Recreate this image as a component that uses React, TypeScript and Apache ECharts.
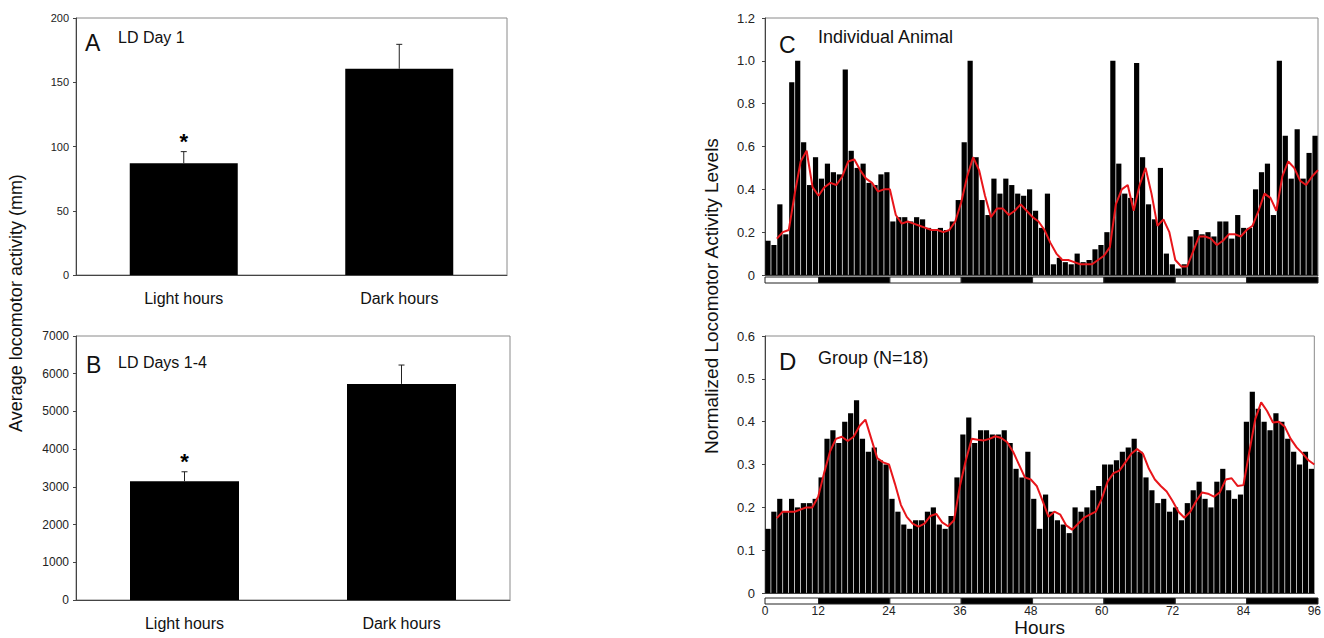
import React, { useEffect, useRef } from "react";
import * as echarts from "echarts";

// ---------- Panels A & B ----------
const categories = ["Light hours", "Dark hours"];
const day1Means = [87, 160.5];
const day1ErrTop = [96, 179.5];
const days14Means = [3150, 5730];
const days14ErrTop = [3400, 6230];
const significance = ["*", ""];

// ---------- Panels C & D (hourly bins, first bin starts at hour 3) ----------
const firstHour = 3;
const individualBars = [
  0.16, 0.14, 0.33, 0.19, 0.9, 1.0, 0.62, 0.42, 0.55, 0.45,
  0.52, 0.48, 0.47, 0.96, 0.58, 0.5, 0.52, 0.43, 0.42, 0.47,
  0.48, 0.25, 0.27, 0.27, 0.25, 0.27, 0.26, 0.22, 0.21, 0.22,
  0.21, 0.25, 0.35, 0.62, 1.0, 0.55, 0.35, 0.28, 0.45, 0.38,
  0.45, 0.42, 0.38, 0.37, 0.4, 0.3, 0.22, 0.38, 0.05, 0.08,
  0.06, 0.05, 0.1, 0.06, 0.07, 0.12, 0.14, 0.2, 1.0, 0.52,
  0.38, 0.36, 0.99, 0.55, 0.33, 0.26, 0.5, 0.1, 0.05, 0.03,
  0.05, 0.18, 0.21, 0.19, 0.2, 0.18, 0.25, 0.25, 0.17, 0.28,
  0.22, 0.22, 0.4, 0.48, 0.52, 0.28, 1.0, 0.65, 0.45, 0.68,
  0.45, 0.57, 0.65,
];
const avgStartHour = 5;
const individualAvg = [
  0.17, 0.2, 0.21, 0.38, 0.53, 0.58, 0.41, 0.37, 0.41, 0.43,
  0.42, 0.46, 0.53, 0.54, 0.49, 0.45, 0.43, 0.39, 0.4, 0.4,
  0.28, 0.24, 0.25, 0.24, 0.23, 0.22, 0.21, 0.21, 0.2, 0.21,
  0.25, 0.34, 0.46, 0.55, 0.49, 0.37, 0.27, 0.31, 0.31, 0.28,
  0.3, 0.33, 0.3, 0.27, 0.25, 0.21, 0.15, 0.1, 0.07, 0.07,
  0.06, 0.05, 0.05, 0.05, 0.07, 0.09, 0.13, 0.33, 0.4, 0.42,
  0.3, 0.42, 0.5, 0.38, 0.23, 0.26, 0.2, 0.07, 0.04, 0.04,
  0.11, 0.18, 0.18, 0.17, 0.14, 0.16, 0.19, 0.19, 0.18, 0.21,
  0.23, 0.3, 0.38, 0.36, 0.3, 0.46, 0.53, 0.5, 0.44, 0.42,
  0.46, 0.49,
];
const groupBars = [
  0.15, 0.19, 0.22, 0.19, 0.22, 0.2, 0.21, 0.21, 0.22, 0.27,
  0.36, 0.38, 0.35, 0.4, 0.42, 0.45, 0.36, 0.33, 0.34, 0.31,
  0.3, 0.22, 0.19, 0.16, 0.15, 0.17, 0.17, 0.19, 0.2, 0.16,
  0.15, 0.18, 0.27, 0.37, 0.41, 0.35, 0.38, 0.38, 0.37, 0.37,
  0.38, 0.35, 0.29, 0.27, 0.33, 0.22, 0.15, 0.23, 0.19, 0.17,
  0.16, 0.14, 0.2, 0.19, 0.2, 0.24, 0.25, 0.3, 0.3, 0.31,
  0.33, 0.34, 0.36, 0.33, 0.27, 0.24, 0.21, 0.22, 0.19, 0.2,
  0.17, 0.21, 0.24, 0.26, 0.22, 0.2, 0.26, 0.29, 0.24, 0.22,
  0.23, 0.4, 0.47, 0.43, 0.4, 0.38, 0.42, 0.4, 0.36, 0.33,
  0.3, 0.33, 0.29,
];
const groupAvg = [
  0.175, 0.19, 0.19, 0.19, 0.195, 0.2, 0.2, 0.225, 0.28, 0.33,
  0.36, 0.365, 0.355, 0.365, 0.39, 0.405, 0.36, 0.315, 0.305, 0.3,
  0.255, 0.206, 0.178, 0.162, 0.155, 0.162, 0.18, 0.185, 0.165, 0.156,
  0.17, 0.25, 0.31, 0.36, 0.358, 0.356, 0.36, 0.366, 0.362, 0.352,
  0.33, 0.3, 0.27, 0.265, 0.25, 0.215, 0.178, 0.19, 0.183, 0.158,
  0.148, 0.162, 0.176, 0.183, 0.19, 0.22, 0.26, 0.28, 0.286, 0.305,
  0.325, 0.336, 0.325, 0.29, 0.265, 0.25, 0.237, 0.215, 0.19, 0.176,
  0.19, 0.215, 0.235, 0.232, 0.225, 0.235, 0.265, 0.268, 0.25, 0.252,
  0.33, 0.406, 0.445, 0.425, 0.398, 0.4, 0.388, 0.36, 0.34, 0.326,
  0.31, 0.3,
];
// light (0) / dark (1) periods: [start hour, end hour, dark]
const photoperiod = [
  [3, 12, 0], [12, 24, 1], [24, 36, 0], [36, 48, 1],
  [48, 60, 0], [60, 72, 1], [72, 84, 0], [84, 96, 1],
];
const hourTicks = [3, 12, 24, 36, 48, 60, 72, 84, 96];
const hourTickLabels = ["0", "12", "24", "36", "48", "60", "72", "84", "96"];

const FONT = "Liberation Sans, Arial, sans-serif";

export default function App() {
  const ref = useRef<HTMLDivElement>(null);

  useEffect(() => {
    if (!ref.current) return;
    const chart = echarts.init(ref.current, null, { renderer: "svg" });

    const errorRender = (sig: string[]) => (params: any, api: any) => {
      const idx = api.value(0);
      const base = api.coord([idx, api.value(1)]);
      const top = api.coord([idx, api.value(2)]);
      const children: any[] = [
        { type: "line", shape: { x1: base[0], y1: base[1], x2: top[0], y2: top[1] }, style: { stroke: "#222", lineWidth: 1 } },
        { type: "line", shape: { x1: top[0] - 3, y1: top[1], x2: top[0] + 3, y2: top[1] }, style: { stroke: "#222", lineWidth: 1 } },
      ];
      if (sig[idx]) {
        children.push({
          type: "text", x: top[0], y: top[1] - 10,
          style: { text: sig[idx], fill: "#000", font: `bold 22px ${FONT}`, align: "center", verticalAlign: "middle" },
        });
      }
      return { type: "group", children };
    };

    const stripRender = (params: any, api: any) => {
      const a = api.coord([api.value(0), 1]);
      const b = api.coord([api.value(1), 0]);
      const dark = api.value(2) === 1;
      return {
        type: "rect",
        shape: { x: a[0], y: a[1], width: b[0] - a[0], height: b[1] - a[1] },
        style: { fill: dark ? "#000" : "#fff", stroke: "#222", lineWidth: 1 },
      };
    };

    const gridBox = { show: true, borderColor: "#8a8a8a", borderWidth: 1, backgroundColor: "transparent" };
    const axisLine = { show: true, lineStyle: { color: "#444", width: 1 } };
    const catAxis = (gridIndex: number) => ({
      type: "category", gridIndex, data: categories,
      axisLine, axisTick: { show: false },
      axisLabel: { color: "#111", fontSize: 16, fontFamily: FONT, margin: 15 },
    });
    const hourAxis = (gridIndex: number, labels: boolean, hidden = false) => ({
      type: "value", gridIndex, min: 3, max: 96, show: !hidden,
      axisLine, axisTick: { show: false }, splitLine: { show: false },
      axisLabel: labels
        ? {
            show: true, color: "#222", fontSize: 12, fontFamily: FONT, margin: 12,
            customValues: hourTicks,
            formatter: (v: number) => { const i = hourTicks.indexOf(v); return i >= 0 ? hourTickLabels[i] : ""; },
          }
        : { show: false },
    });
    const valAxis = (gridIndex: number, max: number, interval: number, fontSize: number, margin: number, fmt: (v: number) => string) => ({
      type: "value", gridIndex, min: 0, max, interval,
      axisLine, splitLine: { show: false },
      axisTick: { show: true, inside: false, length: 3, lineStyle: { color: "#444" } },
      axisLabel: { color: "#222", fontSize, fontFamily: FONT, margin, formatter: fmt },
    });
    const decFmt = (v: number) => (v === 0 ? "0" : v.toFixed(1));
    const intFmt = (v: number) => String(Math.round(v));

    const titleText = (x: number, y: number, text: string, size: number) => ({
      type: "text", x, y,
      style: { text, fill: "#111", font: `${size}px ${FONT}`, align: "left", verticalAlign: "middle" },
    });

    chart.setOption({
      animation: false,
      backgroundColor: "#fff",
      grid: [
        { left: 76, top: 18, width: 431, height: 257, ...gridBox },
        { left: 76, top: 336, width: 434, height: 264, ...gridBox },
        { left: 765, top: 18, width: 553, height: 257, ...gridBox },
        { left: 765, top: 277, width: 553, height: 6, show: false },
        { left: 765, top: 336, width: 553, height: 260, ...gridBox },
        { left: 765, top: 598, width: 553, height: 6, show: false },
      ],
      xAxis: [
        catAxis(0),
        catAxis(1),
        hourAxis(2, false),
        hourAxis(3, false, true),
        {
          ...hourAxis(4, true),
          name: "Hours", nameLocation: "middle", nameGap: 21,
          nameTextStyle: { color: "#111", fontSize: 19, fontFamily: FONT, verticalAlign: "top" },
        },
        hourAxis(5, false, true),
      ],
      yAxis: [
        valAxis(0, 200, 50, 11, 7, intFmt),
        valAxis(1, 7000, 1000, 12, 7, intFmt),
        valAxis(2, 1.2, 0.2, 13, 10, decFmt),
        { type: "value", gridIndex: 3, min: 0, max: 1, show: false },
        valAxis(4, 0.6, 0.1, 13, 10, decFmt),
        { type: "value", gridIndex: 5, min: 0, max: 1, show: false },
      ],
      series: [
        { type: "bar", xAxisIndex: 0, yAxisIndex: 0, data: day1Means, barWidth: 108, itemStyle: { color: "#000" } },
        {
          type: "custom", xAxisIndex: 0, yAxisIndex: 0, renderItem: errorRender(significance),
          encode: { x: 0, y: [1, 2] },
          data: categories.map((_, i) => [i, day1Means[i], day1ErrTop[i]]), z: 5,
        },
        { type: "bar", xAxisIndex: 1, yAxisIndex: 1, data: days14Means, barWidth: 109, itemStyle: { color: "#000" } },
        {
          type: "custom", xAxisIndex: 1, yAxisIndex: 1, renderItem: errorRender(significance),
          encode: { x: 0, y: [1, 2] },
          data: categories.map((_, i) => [i, days14Means[i], days14ErrTop[i]]), z: 5,
        },
        {
          type: "bar", xAxisIndex: 2, yAxisIndex: 2, barWidth: 5.2,
          data: individualBars.map((v, i) => [firstHour + i + 0.5, v]),
          itemStyle: { color: "#000" },
        },
        {
          type: "line", xAxisIndex: 2, yAxisIndex: 2, symbol: "none", z: 6,
          data: individualAvg.map((v, i) => [avgStartHour + i, v]),
          lineStyle: { color: "#e8161b", width: 2 },
        },
        {
          type: "custom", xAxisIndex: 3, yAxisIndex: 3, renderItem: stripRender,
          encode: { x: [0, 1] }, data: photoperiod,
        },
        {
          type: "bar", xAxisIndex: 4, yAxisIndex: 4, barWidth: 5.2,
          data: groupBars.map((v, i) => [firstHour + i + 0.5, v]),
          itemStyle: { color: "#000" },
        },
        {
          type: "line", xAxisIndex: 4, yAxisIndex: 4, symbol: "none", z: 6,
          data: groupAvg.map((v, i) => [avgStartHour + i, v]),
          lineStyle: { color: "#e8161b", width: 2 },
        },
        {
          type: "custom", xAxisIndex: 5, yAxisIndex: 5, renderItem: stripRender,
          encode: { x: [0, 1] }, data: photoperiod,
        },
      ],
      graphic: [
        titleText(85, 43, "A", 23),
        titleText(118, 37, "LD Day 1", 16),
        titleText(86, 365, "B", 23),
        titleText(118, 362, "LD Days 1-4", 16),
        titleText(779, 45, "C", 23),
        titleText(818, 37, "Individual Animal", 18),
        titleText(779, 361, "D", 24),
        titleText(818, 358, "Group (N=18)", 18),
        {
          type: "text", x: 16, y: 303, rotation: Math.PI / 2,
          style: { text: "Average locomotor activity (mm)", fill: "#111", font: `18px ${FONT}`, align: "center", verticalAlign: "middle" },
        },
        {
          type: "text", x: 711, y: 296, rotation: Math.PI / 2,
          style: { text: "Normalized Locomotor Activity Levels", fill: "#111", font: `19px ${FONT}`, align: "center", verticalAlign: "middle" },
        },
      ],
    });

    return () => chart.dispose();
  }, []);

  return <div ref={ref} style={{ position: "absolute", left: 0, top: 0, width: 1324, height: 638 }} />;
}
